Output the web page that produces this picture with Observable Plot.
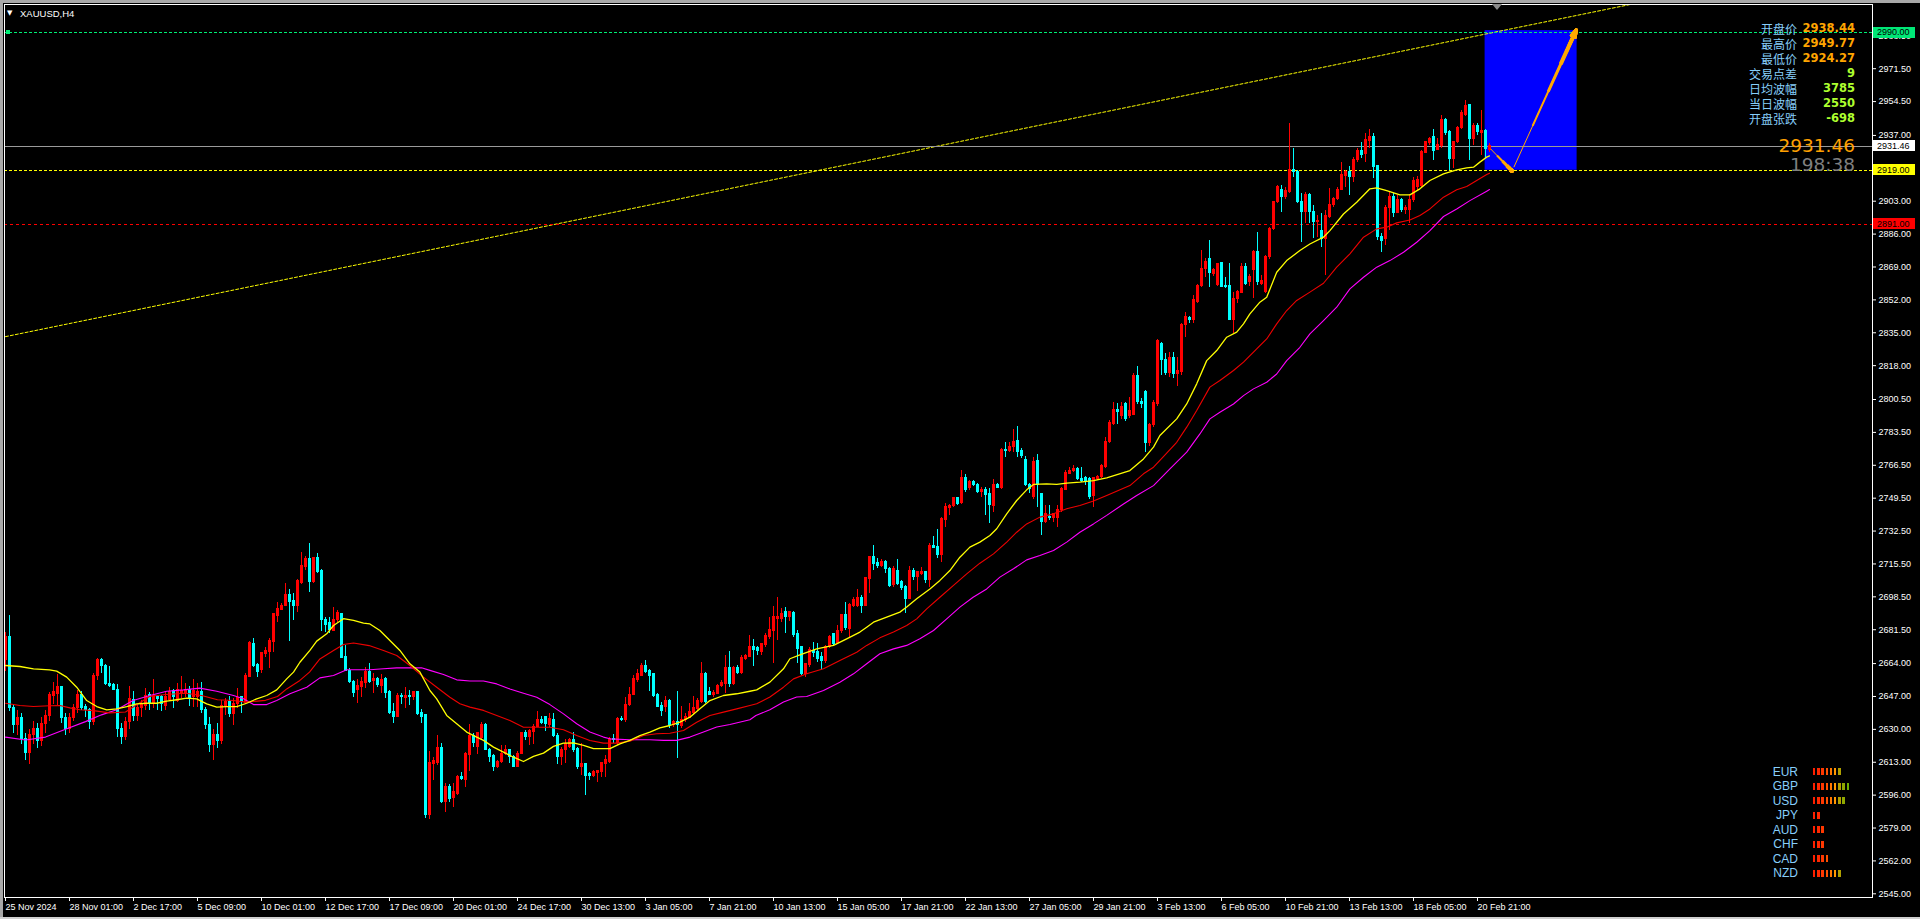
<!DOCTYPE html>
<html><head><meta charset="utf-8"><title>XAUUSD,H4</title>
<script src="https://cdn.jsdelivr.net/npm/d3@7"></script>
<script src="https://cdn.jsdelivr.net/npm/@observablehq/plot@0.6"></script>
<style>
html,body{margin:0;padding:0;background:#000;overflow:hidden;width:1920px;height:919px;}
#wrap{position:relative;width:1920px;height:919px;overflow:hidden;}
#wrap svg{display:block;}
.t{position:absolute;white-space:nowrap;line-height:1;}
</style></head>
<body><div id="wrap"></div>
<script>
// ---------- data ----------
const opens = [
2666,2678,2641,2632,2636,2625,2618,2627,2630,2624,
2633,2637,2647.5,2648.4,2651.8,2636,2630,2636,2641.1,2648,
2641.8,2640,2634,2657.8,2665.6,2663,2653.5,2653,2650.4,2630,
2626,2634,2645.3,2637,2641,2642.3,2648,2643.5,2646.6,2646.6,
2642.3,2645.3,2649.7,2644.9,2648.7,2648.4,2650.4,2646.6,2646.6,2649.2,
2640,2632,2622,2627,2624,2642,2644,2638,2643.3,2646.6,
2643.5,2657.3,2674.2,2663.5,2660.8,2669,2669.9,2675,2688.8,2691.8,
2694,2699.2,2696.6,2694,2705.6,2713.8,2718.2,2706.1,2718.7,2712.1,
2686.6,2684.9,2681.1,2686.3,2689.7,2667.3,2660.4,2654.4,2650.4,2651.8,
2653.9,2659.6,2654.9,2656,2652.2,2656,2649.2,2638.9,2636.6,2647.5,
2646.3,2647.5,2646.6,2649.2,2638.4,2637.2,2585.5,2612.2,2612.5,2620.3,
2592.4,2600.1,2594.6,2596.7,2605.3,2604,2617,2626.8,2620.8,2625.6,
2632,2619.4,2616,2610.5,2613,2617.4,2619.1,2615.6,2610.8,2617.4,
2628,2626,2628.6,2631.1,2635,2636.3,2632.5,2634.6,2626.8,2615.6,
2619.1,2620.8,2624.3,2620,2610.5,2612.2,2607,2606.1,2607.3,2607.9,
2612.2,2613,2625.1,2622.9,2635.4,2634.6,2642.8,2648,2655.3,2657.8,
2663,2660.1,2658.4,2648,2642.3,2641.5,2644.9,2632,2633.7,2631.5,
2634.6,2636,2638.4,2640.6,2644.1,2658.7,2649.2,2648,2648.4,2652.2,
2653.2,2661.8,2653.5,2661.8,2659.1,2666.5,2667.3,2672.8,2672.2,2669.9,
2673.4,2678,2680.8,2686.8,2686.8,2690.6,2688.3,2690.1,2679.4,2672.5,
2658.7,2663.5,2670.4,2669.9,2667.3,2665.3,2672.5,2679.4,2674.6,2681.1,
2688.9,2682,2694,2694,2697.8,2694,2707.8,2719,2715.9,2714.4,
2716.4,2713,2704.4,2712.1,2706.1,2703.5,2697.5,2712.1,2708.7,2710.4,
2711.3,2707,2725,2724.5,2719.9,2738.3,2744.5,2745.2,2749.5,2746.9,
2760,2754.9,2758.1,2756.4,2752.6,2753.8,2751.4,2745.7,2756.1,2754.9,
2774.5,2773.8,2775.9,2778.8,2773.8,2769.3,2756.1,2750,2768.5,2751.8,
2737.1,2740,2739.4,2739.4,2743.5,2753.8,2762.1,2763.5,2764.7,2759.5,
2760,2759.5,2750.4,2759.5,2760.4,2765.5,2778.5,2787.9,2795.2,2792.2,
2798.2,2792.2,2792.7,2812.9,2799.1,2804.3,2777.9,2787.4,2798.2,2829.3,
2821,2814.1,2821.8,2813.8,2814.6,2839.1,2842.5,2841.7,2851.1,2859.4,
2868,2873.2,2865.4,2859.8,2871,2859.4,2859.4,2841.7,2852.5,2855.4,
2868.9,2861.1,2867.2,2876.6,2860.3,2856,2874.1,2888.7,2902.5,2908.8,
2905.4,2907.7,2918.9,2918,2902.5,2897.3,2906.4,2897.3,2892.2,2887.8,
2883.5,2894.7,2900.8,2904.2,2908.8,2915.8,2918.3,2915.4,2924.4,2928.8,
2927.5,2934,2936.4,2921.4,2884.4,2883.5,2899.6,2905.4,2897,2903.7,
2898.2,2898.2,2903.4,2910.2,2911.1,2927.8,2933,2936.1,2929.6,2931.3,
2945,2938.7,2924.9,2933.5,2940.9,2947.8,2952.5,2935.2,2942.1,2938.2,
2939.5,2929.6];
const highs = [
2680,2689,2643,2640,2638,2628,2630,2634,2633,2636,
2640,2649,2654.4,2658.4,2652,2638,2638,2643,2650,2649.7,
2643,2641,2659,2666.5,2666.5,2663.5,2662.5,2653.5,2653,2633,
2636,2652.2,2649.7,2643,2645,2651,2649.2,2655.6,2647,2647.5,
2649.2,2651.8,2650.4,2653.5,2657.3,2653.5,2652.2,2655.6,2653.5,2654.4,
2641.4,2636,2630,2633,2645,2646,2647,2646,2651,2647,
2658.7,2675.6,2676.8,2663.9,2669.9,2672.5,2676.8,2690.1,2695.7,2695.2,
2705.2,2702.1,2700.1,2707.3,2721.6,2719.4,2726.2,2719,2720.7,2712.5,
2687.6,2688,2692.8,2691.4,2690.1,2673.3,2661.3,2655.3,2655.6,2656.6,
2662.1,2664.2,2658.7,2657,2658.4,2657,2650.1,2643.2,2648.4,2648.7,
2651.8,2650.1,2649.7,2649.7,2640.1,2637.5,2618.7,2615.6,2626.8,2622.5,
2601.8,2601.5,2601.8,2606.2,2607.9,2618.2,2632.5,2628,2628.6,2633.7,
2632.9,2620,2617,2613.9,2621.7,2621.7,2619.4,2616.5,2618.7,2628.6,
2629.4,2629.8,2632.5,2639.4,2636.6,2636.6,2638,2638.4,2627.7,2620.8,
2624.6,2625.1,2628.6,2620.5,2622.5,2612.5,2607.9,2608.7,2608.7,2613,
2616.5,2625.9,2627.3,2636.3,2636.6,2646.3,2651.5,2657.8,2660.8,2663.9,
2665.6,2660.8,2658.7,2648.7,2644,2647,2645.3,2634.6,2649.6,2641.8,
2638.4,2643.2,2647,2645.8,2664.7,2659.6,2651.5,2650.1,2653.2,2655.3,
2668.2,2670.4,2662.5,2663,2668.2,2668.7,2678.5,2676.3,2673,2674.6,
2679.4,2688,2693.5,2698.3,2692.3,2693.2,2691.1,2691.1,2681.1,2672.5,
2664.2,2672.5,2675.1,2674.6,2669.9,2673.4,2678.5,2679.7,2683.7,2689.4,
2695.7,2694.9,2698.3,2702.1,2699.2,2708.7,2719.4,2725,2718.2,2717.6,
2717.3,2713.8,2714.2,2717.6,2707,2704.4,2714.2,2713,2711.8,2713.9,
2711.8,2726.3,2729.7,2733.1,2739.7,2746.6,2746.2,2750,2750,2763.8,
2761.7,2758.6,2758.6,2756.9,2755.2,2754.9,2754.3,2759,2756.9,2775,
2778.5,2778.5,2784.8,2786.6,2775,2771.1,2756.9,2770.7,2771.9,2752.1,
2745.7,2745.7,2741.4,2745.7,2754.9,2763.8,2765.5,2766.2,2765.5,2765.5,
2760.5,2760.4,2760.4,2761.2,2766.9,2781,2789.7,2799.1,2798.3,2799.1,
2799,2801.7,2813.7,2817.5,2801,2805,2788,2800,2831.5,2830.1,
2824.1,2825,2825,2822.4,2840,2845.6,2843.5,2854.2,2860,2877.5,
2873.2,2882.7,2868,2871,2871.5,2863.7,2870.6,2856,2856.8,2870.6,
2870.6,2865,2877.5,2887,2864.6,2875,2889.5,2903,2911.1,2911.1,
2910,2943.3,2930.1,2918.9,2906.8,2907.6,2906.8,2900.8,2895.6,2896.5,
2898.2,2909.4,2905.1,2910.2,2923.2,2918.9,2920.9,2925.8,2930.1,2933.5,
2937.8,2939.9,2937.8,2921.4,2886.1,2900.8,2907.6,2906.8,2905.9,2904.2,
2901,2906.4,2915.1,2915.8,2929,2934,2936.1,2939.9,2935.2,2947.3,
2945.6,2939.5,2934,2941.6,2949.9,2955,2953,2943,2943,2949.9,
2939.9,2933];
const lows = [
2660,2639,2628,2627,2622,2614,2612,2622,2620,2621,
2628,2634,2643,2642.3,2633,2627,2628,2634,2638,2639.8,
2636,2630,2632,2655,2658.7,2652.7,2651.8,2650,2626,2622,
2624,2630,2634,2634,2636,2640,2640,2641,2640,2639,
2640,2644.6,2641,2644,2645.8,2646.6,2642,2641.5,2641.5,2638,
2630,2618,2614,2620,2622,2637,2636,2632,2641,2638,
2643,2657,2662,2657,2658.7,2667,2661.3,2669.9,2685.2,2691.4,
2693.5,2675.6,2686.3,2690.6,2705,2712,2700.9,2705.6,2710.4,2680.7,
2680.2,2679.4,2680.7,2685.4,2666.5,2660,2653.5,2646.3,2643.5,2646.6,
2651,2653.5,2648.4,2651.8,2648.4,2645.8,2637.7,2633.2,2636,2642.8,
2640.6,2642.3,2644.9,2637.2,2633.2,2583.7,2583.2,2603.6,2611.3,2591.9,
2587.2,2592.4,2589.8,2596,2603.6,2600.1,2608,2620.5,2617,2624.3,
2619.1,2613,2608.4,2609.6,2612.5,2616.5,2612.5,2610.1,2610.5,2617,
2624.3,2621.7,2622.2,2631,2632.5,2629.1,2631.1,2626,2611.8,2611.3,
2612.5,2620,2618.2,2609.1,2606.1,2595.8,2603.6,2605.3,2602.7,2605.3,
2605.3,2612.5,2622.5,2621.7,2634.2,2633.7,2641.8,2647.5,2654.4,2657.3,
2658.7,2649.7,2646.6,2641.5,2636.6,2638.9,2630.3,2631.1,2614.8,2630.3,
2633.7,2635.4,2637.2,2639.7,2643.5,2643.2,2647.5,2646.6,2648,2651.5,
2648.4,2651.8,2652.7,2658.4,2658.4,2665.6,2667,2662.5,2668,2668.2,
2672.5,2676.3,2664.2,2675.9,2685,2679.4,2686,2677.3,2663.9,2657.8,
2657,2662.2,2667.3,2664.7,2660.4,2663.9,2671.6,2672.8,2674.2,2679.4,
2681.1,2676.8,2693.2,2693.2,2689.7,2693.5,2700.1,2712.1,2713,2713.9,
2710.4,2703.2,2703.5,2704.4,2701.8,2689.7,2697,2707,2701.4,2709.6,
2705.6,2703.5,2723.3,2718.2,2716.4,2734.5,2740.6,2744.9,2745.7,2746.2,
2752.6,2753.5,2755.5,2752.1,2750,2740.6,2736.2,2742.3,2754.3,2753.8,
2770.7,2773.3,2773.3,2770.7,2769.8,2755.5,2751.8,2749,2744.9,2730.2,
2736.6,2738,2737,2734.5,2742.3,2753.5,2761.7,2763,2758.6,2757.8,
2756,2748.7,2744.9,2758.6,2759.5,2764.7,2777.6,2787.1,2787.6,2790,
2789,2790.5,2792,2798,2796,2773.3,2776,2786,2797,2812.9,
2812.9,2812,2811.2,2807.2,2813,2832.7,2840,2840,2850,2858.5,
2863.7,2858.5,2864,2859,2858.5,2857.7,2841.3,2834.4,2850,2855.1,
2859.4,2859,2852.5,2859.4,2859.4,2855.1,2873,2888,2901.6,2897.3,
2904,2907,2915.4,2901.6,2881.8,2891.3,2891.3,2883.5,2884.4,2879.2,
2864.6,2893.9,2899.9,2903.4,2908.5,2910.2,2905.9,2912.8,2923.2,2925,
2923.2,2930.1,2914.5,2882.7,2876.6,2880.1,2887.8,2894.7,2896.5,2897.3,
2896,2891.3,2902.5,2908.5,2910,2927.8,2931.8,2924,2929.2,2930,
2937,2918.9,2920,2933,2940,2947,2924,2931.8,2937,2926.6,
2924.9,2928.3];
const closes = [
2678,2641,2632,2636,2625,2618,2627,2630,2624,2633,
2637,2648,2649.2,2651.8,2636,2630,2636,2641,2648,2641.1,
2640.1,2634,2657.8,2665.6,2662.5,2653.5,2652.6,2650.4,2630,2626,
2634,2645.8,2637,2641,2643,2647,2643.5,2647.5,2645.8,2643.2,
2646.6,2649.2,2646.6,2650.1,2649.7,2650.1,2646.3,2649.7,2649.2,2640,
2632,2622,2627,2624,2642,2644,2638,2643.3,2646.3,2644,
2657.8,2674.5,2663,2659.6,2669.4,2670.4,2675.9,2689.7,2692.3,2694,
2699.2,2695.7,2694,2706.6,2714.7,2718.2,2706.1,2718.7,2711.3,2686.6,
2684.2,2681.4,2686.6,2690.1,2667,2660.4,2654.4,2648.7,2652.2,2654.4,
2659.6,2654.4,2656.1,2652.7,2655.3,2648.7,2638.4,2636.6,2647.5,2646.6,
2647.5,2646.6,2649.2,2638,2636.6,2585.5,2612.5,2613.9,2620.3,2592.4,
2600.1,2594.1,2597.5,2605.3,2604.1,2617.4,2626.8,2622.9,2628,2632,
2619.1,2615.6,2610.5,2613,2617.4,2619.4,2615.6,2610.8,2617.4,2628,
2626,2629.1,2631.1,2635,2633.2,2632.9,2635.4,2626.8,2615.6,2619.1,
2622.5,2624.3,2619.1,2610.5,2612.2,2606.1,2605.8,2607.9,2608.4,2612.5,
2614.4,2625.1,2624.6,2635.4,2634.6,2642.8,2648,2655.8,2658.4,2663,
2659.6,2657.8,2647.5,2641.8,2639.7,2644.9,2632,2633.7,2632,2635,
2636.3,2638.9,2641,2644.6,2658.7,2644.1,2648,2648.7,2652.5,2653.9,
2661.8,2653.2,2661.8,2659.1,2667,2667.7,2672.8,2671.1,2670.4,2673.9,
2678.5,2681.5,2688.3,2688,2689.7,2688.3,2690.6,2679,2671.6,2658.7,
2663.9,2670.8,2669.4,2666.5,2665.3,2672.5,2677.7,2673.9,2681.1,2688.9,
2682.5,2694.5,2697,2697.8,2694,2708.2,2719,2715.6,2714.4,2716.4,
2713,2703.9,2713,2705.2,2703.2,2697.5,2712.1,2708.7,2711.3,2711.3,
2707,2725,2723.8,2719.9,2738.8,2744.9,2745.2,2749.5,2746.6,2760,
2753.8,2758.1,2756.1,2752.6,2753.8,2750.9,2746.2,2756.1,2754.9,2774.5,
2773.8,2776.2,2778.5,2773.3,2771.1,2756.1,2754.3,2768.1,2756.1,2737.1,
2741.1,2739.4,2741.1,2743.5,2754.3,2762.4,2763.5,2764.7,2759.2,2758.3,
2757.8,2750,2760,2760.7,2765.9,2778.5,2788.3,2795.2,2794,2796.5,
2790.5,2794.8,2812.4,2799.1,2798.2,2777.9,2787.4,2798.6,2831,2821,
2814.1,2821.8,2813.8,2815,2839.1,2843,2841.7,2851.7,2859.4,2868,
2871.5,2865.8,2867.2,2870.6,2858.9,2858.5,2841.7,2852.5,2856,2868.9,
2860.3,2863.7,2876.6,2861.1,2862,2874.1,2888.7,2902.5,2910.2,2905.4,
2908.5,2919.2,2918,2902.5,2897.3,2906.4,2897.3,2892.2,2893,2883.5,
2895.1,2901.3,2904.2,2908.8,2916.3,2918.3,2915.4,2924.4,2928.8,2926.9,
2934.4,2936.4,2920.9,2884.4,2882.3,2899.6,2905.4,2897,2903.7,2898.2,
2899.4,2903.7,2913.7,2914,2928.3,2933.8,2935.2,2928.8,2931.8,2945,
2938.1,2924.9,2933.5,2940.9,2948.5,2952.4,2935.2,2942.1,2938.7,2939.5,
2930,2931.46];

// moving averages, sampled along the curves: [bar index, price]
const maYellow = [[0,2663],[3.6,2662.5],[7,2661.3],[11,2660.8],[12.8,2660.1],[15.3,2657],[17.8,2651.8],[20.3,2644.9],[22.8,2641.8],[25.3,2640.1],[27.8,2640.6],[30.3,2641.8],[32.8,2643.2],[35.3,2643.5],[37.8,2643.5],[40.3,2644.6],[42.8,2645.3],[45.3,2646.1],[47.8,2645.8],[50.3,2643.2],[52.8,2641.5],[55.3,2641.8],[57.8,2641.8],[60.3,2643.5],[62.8,2645.8],[65.3,2647.5],[67.8,2650.4],[70.3,2656.1],[72,2659.6],[73.6,2664.7],[76.1,2670.8],[77.8,2675.6],[80.3,2679.4],[82,2683.7],[84.5,2687.2],[87,2686.3],[89.5,2684.9],[91.1,2684.5],[93.6,2681.1],[96.1,2675.9],[98.6,2670.8],[101.1,2663.9],[103.6,2659.6],[106.1,2650.1],[107.8,2645.8],[110.3,2637.2],[112.8,2632.9],[115.3,2628.6],[117.8,2626],[119.5,2624.3],[122,2620.8],[124.5,2618.2],[127,2615.6],[129.5,2613.4],[132,2616],[134.5,2617.7],[137,2621.2],[139.5,2622.9],[142,2623],[144.5,2621.7],[147,2620],[151.1,2620],[153.6,2622.5],[156.1,2624.3],[158.6,2626.8],[161.1,2628.6],[163.6,2630.8],[166.1,2632],[168.6,2633.7],[171.1,2636.3],[173.6,2640.6],[176.1,2644.9],[179.5,2647.5],[182.8,2648.4],[186.1,2649.7],[187.8,2650.4],[191.1,2654.4],[194.5,2661.3],[196.1,2666.5],[198.6,2668.5],[202.8,2671.6],[207,2673.4],[210.3,2676.8],[213.6,2680.3],[215.3,2682.8],[217,2685.4],[220.3,2688],[223.6,2690.6],[225.3,2693.2],[227.8,2697.5],[231.1,2702.6],[233.6,2707],[236.1,2712.1],[238.6,2719],[241.1,2724.2],[243.6,2726.8],[246.1,2730.2],[247.8,2733.7],[250.3,2741.4],[252.8,2748.3],[255.3,2753.8],[257,2756.6],[260.3,2756.9],[262.8,2756.6],[265.3,2757.3],[268.6,2757.8],[272,2758.6],[275.3,2760],[281.1,2763.8],[284.5,2769.8],[287,2775.9],[288.6,2781.9],[292.8,2790.5],[295.3,2798.2],[297.8,2808.6],[300.3,2820.6],[302.8,2825.8],[305.3,2832.7],[307.8,2835.3],[309.5,2839.6],[311.1,2844.8],[313.6,2850.8],[315.3,2853.4],[317.8,2866.3],[320.3,2872.3],[323.6,2877.5],[326.1,2880.9],[329.5,2884.4],[331.1,2887.8],[334.5,2896.4],[337.8,2902.5],[341.1,2909.4],[342.8,2909.9],[345.3,2908.5],[348.6,2906.3],[351.1,2906.3],[353.6,2909.4],[356.1,2913.7],[359.5,2917.1],[362.8,2919.2],[365.3,2920.2],[367,2920.6],[368.6,2923.2],[370.3,2925.8],[371,2926.4]];
const maRed = [[0,2643.5],[3.6,2642.3],[7,2641.8],[11,2642.2],[13.6,2642.3],[16.1,2641.1],[18.6,2640.1],[22,2639.7],[26,2638.5],[30,2639],[33,2643],[36,2647],[40,2648],[45,2648.7],[49,2647.5],[53,2645.3],[57,2644.9],[60,2644.1],[63,2644.6],[65,2645],[68,2647],[70.3,2650.9],[73.6,2655.3],[76,2659.6],[78.6,2666.4],[82,2670.8],[84.5,2673.9],[87,2674.6],[90.9,2673.3],[94.5,2670.8],[97.8,2668.2],[101.1,2663],[104.5,2657],[107.8,2651.8],[111.1,2646.6],[113.6,2643.2],[116.1,2641.5],[119.5,2639.8],[122.8,2637.2],[126.1,2634.6],[129.5,2631.1],[132.8,2631.1],[136.1,2631.1],[139.5,2629.8],[142.8,2626.8],[146.1,2624.2],[149.5,2622.9],[152.8,2622.9],[156.1,2623.9],[159.5,2626.8],[162.8,2627.7],[166.1,2628],[169.5,2629.4],[172.8,2633.7],[176.1,2637.2],[179.5,2638.9],[182.8,2640.6],[186.1,2642.3],[187.8,2643.2],[191.1,2646.7],[194.5,2651.8],[197,2656.1],[200.3,2658.7],[204.5,2661.3],[208.6,2665.6],[212.8,2669.9],[215.3,2673.4],[218.6,2677.3],[222,2680.3],[225.3,2683.7],[227.8,2687.1],[230.3,2692.3],[233.6,2698.3],[237,2704.4],[240.3,2710.4],[243.6,2715.9],[247,2720.7],[250.3,2726.8],[252.8,2731.9],[255.3,2736.2],[258.6,2739.7],[262,2741.4],[265.3,2744],[268.6,2745.7],[272,2748],[275.3,2750.9],[281.1,2756],[284.5,2762.1],[287,2765.5],[288.6,2769],[292.8,2778.4],[295.3,2786.2],[297.8,2794.8],[301.1,2806.9],[303.6,2810.3],[307,2815.5],[309.5,2819.8],[312.8,2826.7],[315.3,2831.8],[317.8,2839.6],[320.3,2846.5],[322.8,2851.7],[326.1,2856],[329.5,2860.6],[332.8,2868.9],[336.1,2875.8],[339.5,2884.4],[342.8,2888.7],[345.3,2889.6],[347.8,2891.8],[351.1,2893.3],[353.6,2895.6],[356.1,2899],[359.5,2905.1],[362.8,2908.9],[365.3,2910.6],[367.8,2913.7],[370.3,2916.8],[371,2917.5]];
const maMagenta = [[0,2626],[5,2624.5],[10,2626],[15,2630],[20,2634],[24,2637.5],[27.8,2640.1],[31.9,2644.9],[36.1,2647.5],[40.3,2649.7],[44.5,2650.4],[48.6,2651.3],[52.8,2649.7],[57,2647.5],[59.5,2645.8],[62,2642.8],[65.3,2642.8],[67.8,2644.9],[71.1,2648.4],[75.3,2651.8],[78.6,2656.6],[82,2657.8],[85.3,2660.8],[88.6,2660.8],[91.1,2660.8],[94.5,2661.3],[97.8,2661.8],[101.1,2661.8],[104,2661.8],[106.1,2660.5],[109.5,2658.4],[112.8,2655.6],[116.1,2655],[119.5,2655],[122.8,2653.5],[126.1,2650.9],[129.5,2648.7],[132.8,2646.6],[136.1,2642.8],[139.5,2638],[142.8,2632.9],[146.1,2628.6],[149.5,2626],[151.1,2625.1],[156.1,2624.6],[161.1,2624.6],[164.5,2624.3],[167.8,2624.3],[171.1,2626],[174.5,2628.6],[177.8,2631.2],[181.1,2632.5],[186.1,2635],[187.6,2637.2],[191.1,2640.1],[194.5,2644.1],[197.8,2646.7],[200.3,2647],[204.5,2650.1],[208.6,2654.4],[212,2658.7],[215.3,2663.9],[218.6,2669.1],[222,2671.6],[225.3,2673.4],[228.6,2676.8],[232,2681.1],[235.3,2687.1],[238.6,2693.2],[241.9,2698.3],[245.3,2702.6],[248.6,2708.7],[252,2713],[255.3,2717.6],[258.6,2719.9],[262,2722.5],[265.3,2726.8],[268.6,2731.9],[272,2736.2],[275.3,2740.6],[279.5,2746.5],[282.8,2750.9],[287,2756],[291.1,2764.6],[295.3,2773.3],[298.6,2782.7],[301.1,2790.5],[303.6,2793.9],[307,2798.2],[309.5,2802.5],[312,2806],[315.3,2809.4],[317.8,2813.7],[320.3,2820.6],[323.6,2827.5],[326.1,2834.4],[329.5,2841.3],[332.8,2848.2],[336.1,2857.7],[339.5,2863.7],[342.8,2868.9],[346.1,2872.3],[349.5,2876.6],[352.8,2881.8],[356.1,2887.8],[359.5,2895.1],[362.8,2899],[366.1,2903.3],[370.3,2908.2],[371,2909]];

// time axis: a label every 16 H4 bars
const timeTickBars = [0,16,32,48,64,80,96,112,128,144,160,176,192,208,224,240,256,272,288,304,320,336,352,368];
const timeLabels = ["25 Nov 2024","28 Nov 01:00","2 Dec 17:00","5 Dec 09:00","10 Dec 01:00","12 Dec 17:00","17 Dec 09:00","20 Dec 01:00","24 Dec 17:00","30 Dec 13:00","3 Jan 05:00","7 Jan 21:00","10 Jan 13:00","15 Jan 05:00","17 Jan 21:00","22 Jan 13:00","27 Jan 05:00","29 Jan 21:00","3 Feb 13:00","6 Feb 05:00","10 Feb 21:00","13 Feb 13:00","18 Feb 05:00","20 Feb 21:00"];
// price axis ticks
const priceTicks = [2988.5,2971.5,2954.5,2937,2920,2903,2886,2869,2852,2835,2818,2800.5,2783.5,2766.5,2749.5,2732.5,2715.5,2698.5,2681.5,2664,2647,2630,2613,2596,2579,2562,2545];

// horizontal levels
const levelPrices = [2990, 2931.46, 2919, 2891];
const levelColors = ["#00ee76", "#9a9a9a", "#ffff00", "#ff0000"];
const levelBoxColors = ["#00e676", "#ffffff", "#ffff00", "#ff0000"];
const levelDash = ["3,2", null, "3,2", "3,3"];

// trend line (two anchor points: bar index, price)
const trendIdx = [0, 406];
const trendPrice = [2833, 3004.6];

// target box and arrows
const boxIdx = [369.9, 392.9];
const boxPrice = [2919, 2991.2];
const arrowStartIdx = [371.25, 377.1];
const arrowStartPrice = [2930.1, 2920.6];
const arrowEndIdx = [376.7, 392.7];
const arrowEndPrice = [2918.5, 2991.6];

// info panel
const infoLabels = ["开盘价","最高价","最低价","交易点差","日均波幅","当日波幅","开盘张跌"];
const infoValues = ["2938.44","2949.77","2924.27","9","3785","2550","-698"];
const bidText = "2931.46";
const timerText = "198:38";

// currency strength panel
const currencies = ["EUR","GBP","USD","JPY","AUD","CHF","CAD","NZD"];
const strengthBars = [7,9,8,2,3,3,4,7];

// ---------- chart ----------
const W = 1920, H = 919;
const mL = 4, mR = 48, mT = 4, mB = 22;
const BULL = "#ff0000", BEAR = "#00ffff";

const bars = opens.map((o, i) => ({i, o, h: highs[i], l: lows[i], c: closes[i]}));
const levels = levelPrices.map((p, k) => ({p, color: levelColors[k], dash: levelDash[k]}));
const trend = trendIdx.map((x, k) => ({x, y: trendPrice[k]}));
const arrows = arrowStartIdx.map((x1, k) => ({x1, y1: arrowStartPrice[k], x2: arrowEndIdx[k], y2: arrowEndPrice[k]}));
const labelMap = new Map(timeTickBars.map((b, k) => [b, timeLabels[k]]));

// tapered shafts: partial segments toward the arrow tip
function along(a, t) { return {x1: a.x1 + (a.x2 - a.x1) * t, y1: a.y1 + (a.y2 - a.y1) * t, x2: a.x2, y2: a.y2}; }
const ORANGE = "#ffa800";
const arrowMarks = [];
const headSpec = [{len: 15, ang: 55}, {len: 28, ang: 32}];
arrows.forEach((a, k) => {
  [[0, 1], [0.3, 2], [0.55, 3], [0.75, 4]].forEach(([t, w]) => {
    arrowMarks.push(Plot.link([along(a, t)], {x1: "x1", y1: "y1", x2: "x2", y2: "y2", stroke: ORANGE, strokeWidth: w}));
  });
  const h = headSpec[k];
  [1, 0.88, 0.76, 0.64, 0.52, 0.4, 0.28, 0.16].forEach(f => {
    arrowMarks.push(Plot.arrow([along(a, 0.85)], {x1: "x1", y1: "y1", x2: "x2", y2: "y2", stroke: ORANGE, strokeWidth: 3, headLength: h.len * f, headAngle: h.ang}));
  });
});

const xDomain = [-0.25, 466.75];
const yDomain = [2543.09, 3004.68];

const chart = Plot.plot({
  width: W, height: H,
  marginLeft: mL, marginRight: mR, marginTop: mT, marginBottom: mB,
  x: {domain: xDomain},
  y: {domain: yDomain},
  color: {type: "identity"},
  style: {background: "#000", color: "#ffffff", fontFamily: "Liberation Sans, Arial, sans-serif", fontSize: "9px", overflow: "visible"},
  marks: [
    Plot.rect([0], {x1: () => boxIdx[0], x2: () => boxIdx[1], y1: () => boxPrice[0], y2: () => boxPrice[1], fill: "#0000ff"}),
    Plot.line(trend, {x: "x", y: "y", stroke: "#ffff00", strokeWidth: 1, strokeDasharray: "3,2"}),
    ...levels.map(l => Plot.ruleY([l.p], {stroke: l.color, strokeWidth: 1, strokeDasharray: l.dash, shapeRendering: "crispEdges"})),
    Plot.ruleX(bars, {x: "i", y1: "l", y2: "h", stroke: d => d.c >= d.o ? BULL : BEAR, strokeWidth: 1, shapeRendering: "crispEdges"}),
    Plot.rect(bars, {x1: d => d.i - 0.375, x2: d => d.i + 0.375, y1: "o", y2: "c", fill: d => d.c >= d.o ? BULL : BEAR, insetTop: -0.5, insetBottom: -0.5, shapeRendering: "crispEdges"}),
    Plot.line(maMagenta, {x: d => d[0], y: d => d[1], stroke: "#ff00ff", strokeWidth: 1.1}),
    Plot.line(maRed, {x: d => d[0], y: d => d[1], stroke: "#ee0000", strokeWidth: 1.1}),
    Plot.line(maYellow, {x: d => d[0], y: d => d[1], stroke: "#ffff00", strokeWidth: 1.3}),
    ...arrowMarks,
    Plot.frame({stroke: "#ffffff", shapeRendering: "crispEdges"}),
    Plot.axisY({anchor: "right", ticks: priceTicks, tickFormat: d => d.toFixed(2), tickSize: 3, tickPadding: 3, label: null, fontSize: 9, stroke: "#ffffff", fill: "#ffffff"}),
    Plot.axisX({anchor: "bottom", ticks: timeTickBars, tickFormat: d => labelMap.get(d), tickSize: 4, tickPadding: 2, textAnchor: "start", label: null, fontSize: 9, stroke: "#ffffff", fill: "#ffffff"})
  ]
});
const wrap = document.getElementById("wrap");
wrap.appendChild(chart);

// scale helper from the plot itself
const ysc = chart.scale("y");
const yOf = v => (ysc && ysc.apply) ? ysc.apply(v) : d3.scaleLinear(yDomain, [H - mB, mT])(v);

function txt(s, x, y, o) {
  const d = document.createElement("div");
  d.className = "t";
  d.textContent = s;
  d.style.left = x + "px";
  d.style.top = y + "px";
  d.style.font = o.font;
  d.style.color = o.color;
  d.style.transform = `translate(${o.end ? "-100%" : "0"}, -50%)`;
  wrap.appendChild(d);
  return d;
}
function box(x, y, w, h, bg) {
  const d = document.createElement("div");
  Object.assign(d.style, {position: "absolute", left: x + "px", top: y + "px", width: w + "px", height: h + "px", background: bg});
  wrap.appendChild(d);
  return d;
}

// outer window border
box(0, 0, W, 3, "#a8a8a8");
box(0, 0, 3, H, "#a8a8a8");
box(0, H - 2, W, 2, "#d0d0d0");

// title
txt("▼", 7, 12.5, {font: "7px 'DejaVu Sans'", color: "#ffffff"});
txt("XAUUSD,H4", 20, 12.5, {font: "9.5px 'Liberation Sans', Arial", color: "#ffffff"});

// small marker at left end of the green level
box(6, yOf(levelPrices[0]) - 2, 4, 4, "#00ee76");
// chart shift marker
const tri = document.createElement("div");
Object.assign(tri.style, {position: "absolute", left: "1492px", top: "4px", width: 0, height: 0, borderLeft: "5px solid transparent", borderRight: "5px solid transparent", borderTop: "6px solid #8a8a8a"});
wrap.appendChild(tri);

// price boxes on right axis
levelPrices.forEach((p, k) => {
  const y = yOf(p);
  box(1873, y - 5.5, 42, 11, levelBoxColors[k]);
  txt(p.toFixed(2), 1877, y, {font: "9px 'Liberation Sans', Arial", color: "#000"});
});

// info panel
const infoY0 = 28.3, infoStep = 15;
infoLabels.forEach((s, k) => {
  const y = infoY0 + k * infoStep;
  txt(s, 1797, y, {font: "12px 'Noto Sans CJK SC'", color: "#87cefa", end: true});
  txt(infoValues[k], 1855, y, {font: "bold 11.5px 'DejaVu Sans'", color: k < 3 ? "#ffa500" : "#adff2f", end: true});
});
txt(bidText, 1855, 144.5, {font: "18.5px 'DejaVu Sans'", color: "#ffa000", end: true});
txt(timerText, 1855, 163.5, {font: "18.5px 'DejaVu Sans'", color: "#808080", end: true});

// currency strength panel
const barPalette = ["#ff2000","#ff2800","#ff3800","#ff5000","#ff7800","#ff9800","#b0a000","#90a800","#70b000"];
currencies.forEach((c, k) => {
  const y = 771.7 + k * 14.5;
  txt(c, 1798, y, {font: "12px 'Liberation Sans', Arial", color: "#87cefa", end: true});
  for (let b = 0; b < strengthBars[k]; b++) {
    box(1813 + b * 4.2, y - 3.5, 2.4, 7, barPalette[b]);
  }
});
</script></body></html>
